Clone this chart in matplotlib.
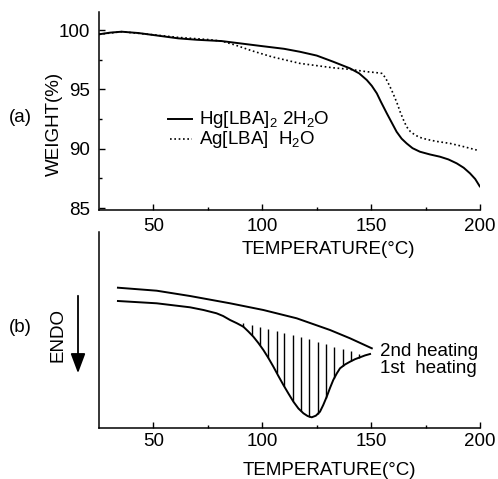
import numpy as np
import matplotlib
matplotlib.use('Agg')
import matplotlib.pyplot as plt
from matplotlib.ticker import FixedLocator

plt.rcParams['font.family'] = ['Liberation Sans', 'DejaVu Sans']
plt.rcParams['mathtext.fontset'] = 'custom'
plt.rcParams['mathtext.rm'] = 'Liberation Sans'
plt.rcParams['mathtext.it'] = 'Liberation Sans:italic'
plt.rcParams['mathtext.bf'] = 'Liberation Sans:bold'

# ---------------- data ----------------
# (a) TGA curves
hg_temp = [25, 30, 35.4, 43, 50, 61.4, 70, 81.4, 99.7, 110, 117.3, 125, 132.6,
           140.3, 144.5, 148, 150.3, 152.6, 154.5, 157.2, 161.7, 164, 166.3,
           169, 172.4, 177, 181.6, 185.5, 189.3, 192.5, 195.4, 197.8, 200]
hg_weight = [99.64, 99.78, 99.86, 99.75, 99.58, 99.30, 99.18, 99.07, 98.65,
             98.42, 98.17, 97.85, 97.33, 96.77, 96.35, 95.79, 95.30, 94.67,
             93.95, 92.98, 91.43, 90.85, 90.45, 90.05, 89.75, 89.52, 89.33,
             89.10, 88.77, 88.40, 87.93, 87.45, 86.80]
ag_temp = [25, 35.4, 50, 61.4, 75, 81.4, 87.5, 95.1, 104.3, 117.3, 132.5,
           140.3, 148, 152, 154.9, 156.5, 157.9, 159.5, 161, 162.2, 163.3,
           164.8, 166.3, 168, 170.2, 172.5, 175.5, 180, 186.2, 192, 198.5]
ag_weight = [99.64, 99.86, 99.60, 99.38, 99.20, 99.07, 98.74, 98.26, 97.75,
             97.19, 96.82, 96.69, 96.49, 96.42, 96.35, 96.00, 95.51, 94.90,
             94.25, 93.70, 93.12, 92.45, 91.85, 91.45, 91.15, 90.95, 90.79,
             90.62, 90.45, 90.20, 89.89]

# (b) DSC curves (arbitrary units)
dsc2_temp = [33.7, 51.5, 66.8, 85.2, 100.5, 115.8, 131.1, 140.3, 150.3]
dsc2_signal = [140.3, 137.3, 132.0, 124.7, 118.0, 109.7, 98.0, 89.7, 79.7]
dsc1_temp = [33.7, 51.5, 66.8, 73.0, 79.0, 82.0, 85.2, 88.3, 91.3, 93.6, 95.9,
             98.2, 100.5, 102.8, 105.1, 107.4, 109.7, 112.0, 114.3, 116.6,
             118.9, 120.8, 122.7, 124.6, 126.5, 128.0, 129.6, 131.1, 132.6,
             134.2, 135.7, 138.0, 140.3, 142.6, 144.9, 147.2, 149.5]
dsc1_signal = [127.0, 124.7, 120.7, 118.0, 114.7, 112.0, 108.0, 104.8, 101.3,
               96.5, 91.3, 85.0, 78.0, 70.0, 61.3, 52.0, 43.0, 34.5, 26.3,
               19.5, 14.7, 12.0, 10.7, 12.3, 16.3, 23.0, 31.3, 40.0, 48.0,
               54.5, 59.7, 63.5, 66.3, 68.8, 70.7, 72.6, 74.0]
base_temp = [90.0, 120.0, 146.0]
base_signal = [105.5, 89.5, 73.5]
hatch_temp = [91.3, 95.2, 99.0, 102.8, 106.6, 110.1, 114.0, 117.8, 121.6,
              125.5, 129.3, 133.1, 137.0, 140.8, 144.6]

x_ticks = [50, 100, 150, 200]
x_minor = [75, 125, 175]
y_ticks = [85, 90, 95, 100]
y_minor = [87.5, 92.5, 97.5]

hg_label = r'Hg[LBA]$_{\mathrm{2}}$ 2H$_{\mathrm{2}}$O'
ag_label = r'Ag[LBA]  H$_{\mathrm{2}}$O'
xlabel = 'TEMPERATURE(°C)'

FS = 13.5

# ---------------- figure ----------------
fig = plt.figure(figsize=(4.98, 4.79), dpi=100)
ax1 = fig.add_axes([99 / 498, 1 - 210 / 479, 381 / 498, 198 / 479])
ax2 = fig.add_axes([99 / 498, 1 - 428 / 479, 381 / 498, 196 / 479])
ax2.patch.set_visible(False)

for ax in (ax1, ax2):
    ax.spines['top'].set_visible(False)
    ax.spines['right'].set_visible(False)
    ax.spines['left'].set_linewidth(1.1)
    ax.spines['bottom'].set_linewidth(1.1)
    ax.set_xlim(25, 200)
    ax.xaxis.set_major_locator(FixedLocator(x_ticks))
    ax.xaxis.set_minor_locator(FixedLocator(x_minor))
    ax.tick_params(which='major', direction='in', length=4, width=1.0,
                   labelsize=FS)
    ax.tick_params(which='minor', direction='in', length=2.5, width=1.0)

# panel (a)
ax1.plot(hg_temp, hg_weight, color='black', lw=1.4, solid_capstyle='round')
ax1.plot(ag_temp, ag_weight, color='black', lw=1.2, linestyle=(0, (1, 1.6)))
ax1.set_ylim(84.84, 101.52)
ax1.yaxis.set_major_locator(FixedLocator(y_ticks))
ax1.yaxis.set_minor_locator(FixedLocator(y_minor))
ax1.tick_params(axis='x', which='major', pad=5.8)
ax1.tick_params(axis='y', which='major', pad=6.5)
ax1.set_xlabel(xlabel, fontsize=FS, va='center')
ax1.xaxis.set_label_coords(0.601, -0.202)
ax1.set_ylabel('WEIGHT(%)', fontsize=FS, va='center', ha='center')
ax1.yaxis.set_label_coords(-0.118, 0.434)

# manual legend
ax1.plot([0.181, 0.244], [0.4596, 0.4596], transform=ax1.transAxes,
         color='black', lw=1.4)
ax1.plot([0.186, 0.244], [0.3586, 0.3586], transform=ax1.transAxes,
         color='black', lw=1.2, linestyle=(0, (1, 1.6)))
ax1.text(0.2625, 0.434, hg_label, transform=ax1.transAxes, fontsize=FS,
         va='baseline', ha='left')
ax1.text(0.2625, 0.333, ag_label, transform=ax1.transAxes, fontsize=FS,
         va='baseline', ha='left')

# panel (b)
ax2.plot(dsc2_temp, dsc2_signal, color='black', lw=1.4)
ax2.plot(dsc1_temp, dsc1_signal, color='black', lw=1.4)
lo = np.interp(hatch_temp, dsc1_temp, dsc1_signal)
hi = np.interp(hatch_temp, base_temp, base_signal)
ax2.vlines(hatch_temp, lo, hi, color='black', lw=1.0)
ax2.set_ylim(0, 196)
ax2.set_yticks([])
ax2.tick_params(axis='x', which='major', pad=3.4)
ax2.set_xlabel(xlabel, fontsize=FS, va='center')
ax2.xaxis.set_label_coords(0.604, -0.219)
ax2.text(0.7375, 0.388, '2nd heating', transform=ax2.transAxes,
         fontsize=FS, va='center', ha='left')
ax2.text(0.7375, 0.306, '1st  heating', transform=ax2.transAxes,
         fontsize=FS, va='center', ha='left')

# panel labels and ENDO arrow
fig.text(20 / 498, 1 - 118 / 479, '(a)', fontsize=FS, ha='center', va='center')
fig.text(20 / 498, 1 - 328 / 479, '(b)', fontsize=FS, ha='center', va='center')
fig.text(58 / 498, 1 - 335 / 479, 'ENDO', fontsize=FS, rotation=90,
         ha='center', va='center')
fig.add_artist(matplotlib.patches.FancyArrowPatch(
    (78 / 498, 1 - 293 / 479), (78 / 498, 1 - 376 / 479),
    transform=fig.transFigure,
    arrowstyle='-|>,head_length=1.2,head_width=0.45',
    mutation_scale=10, lw=1.3, color='black'))

fig.savefig('out.png', dpi=100)
